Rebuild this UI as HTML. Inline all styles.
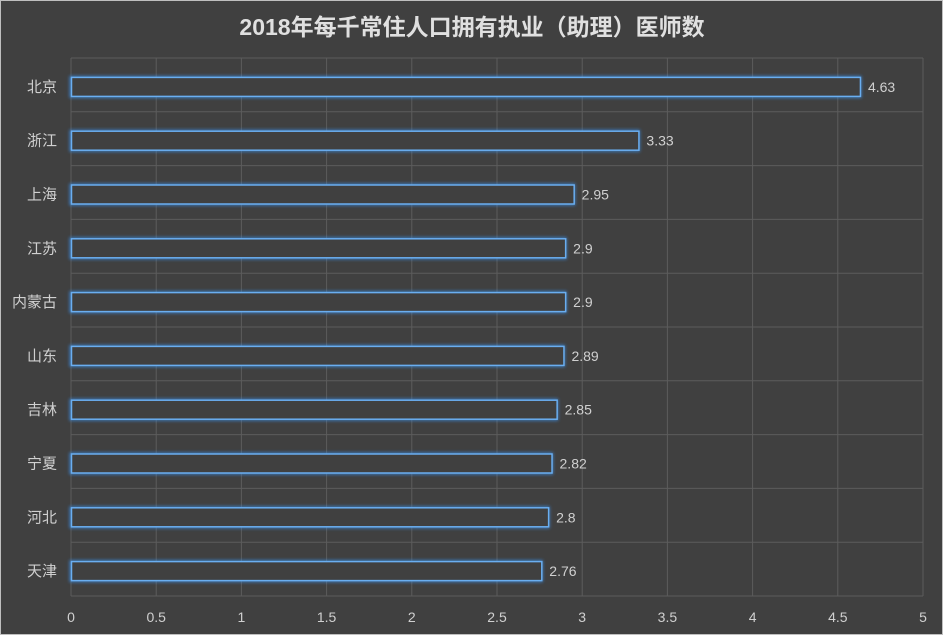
<!DOCTYPE html>
<html><head><meta charset="utf-8"><style>
body{margin:0;background:#404040;}
svg{display:block;font-family:"Liberation Sans","Noto Sans CJK SC",sans-serif;}
</style></head><body>
<svg id="c" width="943" height="635">
<defs><filter id="glow" x="-5%" y="-50%" width="110%" height="200%"><feGaussianBlur stdDeviation="1.5"/></filter></defs>
<rect x="0.5" y="0.5" width="942" height="634" fill="#404040" stroke="#bfbfbf"/>
<text x="472" y="35" text-anchor="middle" font-size="23" font-weight="bold" fill="#e0e0e0">2018年每千常住人口拥有执业（助理）医师数</text>
<g id="grid"></g><g id="bars"></g><g id="labels"></g>
</svg>
<script>
const categories=["北京","浙江","上海","江苏","内蒙古","山东","吉林","宁夏","河北","天津"];
const values=[4.63,3.33,2.95,2.9,2.9,2.89,2.85,2.82,2.8,2.76];
const ticks=[0,0.5,1,1.5,2,2.5,3,3.5,4,4.5,5];
const L=71,R=923,T=58,B=596,maxV=5;
const ns="http://www.w3.org/2000/svg";
const x=v=>L+(v/maxV)*(R-L);
const rowH=(B-T)/categories.length;
const y=i=>T+rowH*i+rowH/2+2;
function mk(tag,attrs,parent,text){const e=document.createElementNS(ns,tag);for(const k in attrs)e.setAttribute(k,attrs[k]);if(text!==undefined)e.textContent=text;document.getElementById(parent).appendChild(e);return e;}
ticks.forEach(t=>{
 const g=mk('line',{x1:x(t),x2:x(t),y1:T,y2:B,stroke:'#5c5c5c','stroke-width':1},'grid');
 
 
 const l=mk('text',{x:x(t),y:B+26,'text-anchor':'middle','font-size':14,fill:'#d0d0d0'},'labels',String(t));
 
 
});
for(let i=0;i<=categories.length;i++){
 const h=mk('line',{x1:L,x2:R,y1:T+rowH*i,y2:T+rowH*i,stroke:'#5c5c5c','stroke-width':1},'grid');
 
 
}
categories.forEach((c,i)=>{
 const cy=y(i),bh=19;
 const gl=mk('rect',{x:L,y:cy-bh/2,width:x(values[i])-L,height:bh,fill:'none',stroke:'#3a8ee6','stroke-width':3,filter:'url(#glow)',opacity:0.8},'bars');
 
 
 const b=mk('rect',{x:L+0.5,y:cy-bh/2,width:x(values[i])-L,height:bh,fill:'#404040',stroke:'#6aaef0','stroke-width':1.5},'bars');
 
 
 const v=mk('text',{x:x(values[i])+8,y:cy+5,'font-size':14,fill:'#d0d0d0'},'labels',String(values[i]));
 
 
 const cl=mk('text',{x:57,y:cy+5,'text-anchor':'end','font-size':15,fill:'#d0d0d0'},'labels',c);
 
 
});
</script>
</body></html>
